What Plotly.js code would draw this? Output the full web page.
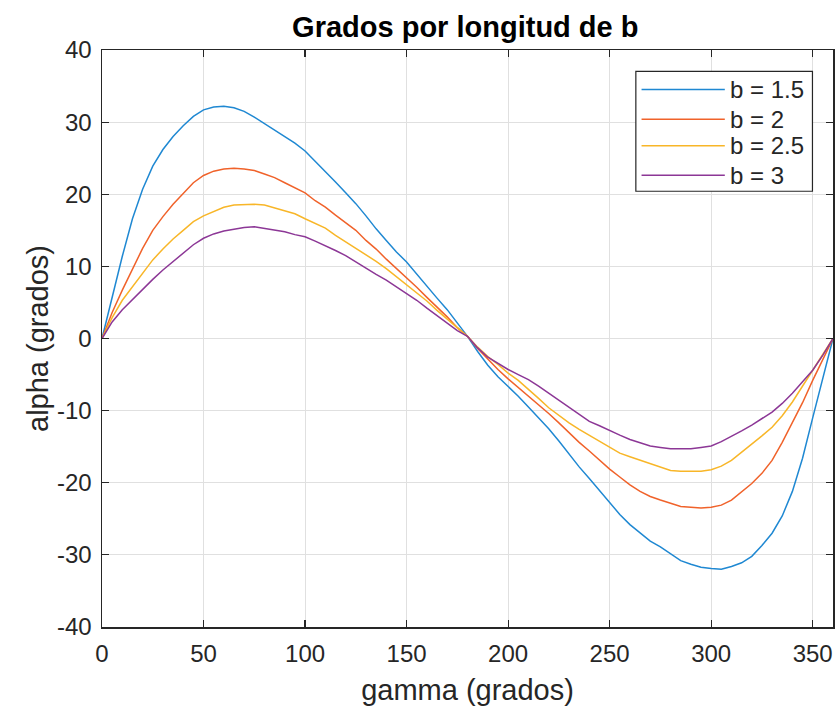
<!DOCTYPE html>
<html>
<head>
<meta charset="utf-8">
<script src="https://cdn.plot.ly/plotly-3.0.1.min.js"></script>
<style>
html,body{margin:0;padding:0;background:#fff;}
#chart{width:838px;height:709px;}
</style>
</head>
<body>
<div id="chart"></div>
<script>
// gamma (grados)
var gamma = [0,5,10,15,20,25,30,35,40,45,50,55,60,65,70,75,80,85,90,95,100,105,110,115,120,125,130,135,140,145,150,155,160,165,170,175,180,
             185,190,195,200,205,210,215,220,225,230,235,240,245,250,255,260,265,270,275,280,285,290,295,300,305,310,315,320,325,330,335,340,345,350,355,360];

// alpha (grados) for each b
var alpha_b15 = [0,5.8,11.4,16.6,20.7,23.9,26.2,28.0,29.5,30.8,31.7,32.1,32.2,32.0,31.5,30.7,29.8,28.9,28.0,27.1,26.0,24.6,23.2,21.7,20.2,18.7,17.0,15.2,13.6,12.0,10.6,8.9,7.3,5.6,4.0,2.2,0.3,
                 -1.8,-3.7,-5.3,-6.6,-8.0,-9.5,-11.0,-12.5,-14.2,-16.0,-17.8,-19.4,-21.1,-22.8,-24.4,-25.8,-26.9,-28.1,-28.9,-29.9,-30.8,-31.3,-31.7,-31.9,-32.0,-31.6,-31.1,-30.2,-28.7,-27.0,-24.6,-21.2,-16.6,-11.0,-5.5,0];
var alpha_b2  = [0,3.6,6.7,9.5,12.5,15.0,16.9,18.6,20.1,21.6,22.6,23.2,23.5,23.6,23.5,23.3,22.8,22.3,21.6,20.9,20.2,19.1,18.2,17.1,16.0,15.0,13.6,12.4,11.0,9.7,8.5,7.1,5.7,4.4,3.0,1.5,0.3,
                 -1.4,-2.9,-4.3,-5.6,-6.8,-7.9,-9.2,-10.4,-11.7,-13.1,-14.4,-15.6,-16.9,-18.1,-19.2,-20.3,-21.2,-21.9,-22.4,-22.9,-23.3,-23.4,-23.5,-23.4,-23.1,-22.4,-21.3,-20.1,-18.7,-16.9,-14.4,-11.7,-8.9,-5.8,-2.9,0];
var alpha_b25 = [0,2.9,5.3,7.2,9.1,10.9,12.4,13.8,15.0,16.2,17.0,17.6,18.2,18.5,18.6,18.6,18.5,18.1,17.8,17.3,16.6,16.0,15.3,14.3,13.4,12.5,11.7,10.7,9.7,8.6,7.5,6.3,5.2,3.9,2.7,1.4,0.3,
                 -1.2,-2.5,-3.6,-4.8,-5.8,-7.0,-8.3,-9.6,-10.7,-11.7,-12.6,-13.4,-14.2,-15.1,-15.9,-16.4,-16.9,-17.4,-17.8,-18.3,-18.4,-18.4,-18.4,-18.2,-17.7,-16.9,-15.8,-14.7,-13.5,-12.3,-10.7,-8.8,-6.6,-4.3,-2.1,0];
var alpha_b3  = [0,2.3,4.0,5.4,6.9,8.2,9.5,10.7,11.9,13.0,13.9,14.5,14.9,15.2,15.4,15.5,15.3,15.1,14.8,14.4,14.1,13.5,12.9,12.2,11.5,10.6,9.7,8.9,8.1,7.2,6.3,5.3,4.2,3.2,2.2,1.1,0.3,
                 -1.3,-2.6,-3.5,-4.3,-5.0,-5.7,-6.6,-7.6,-8.5,-9.5,-10.6,-11.5,-12.1,-12.8,-13.4,-14.0,-14.5,-14.9,-15.1,-15.3,-15.3,-15.3,-15.1,-14.9,-14.3,-13.6,-12.8,-12.0,-11.1,-10.2,-9.0,-7.6,-6.0,-4.4,-2.3,0];

var seriesNames = ["b = 1.5","b = 2","b = 2.5","b = 3"];
var seriesData = [alpha_b15, alpha_b2, alpha_b25, alpha_b3];
var seriesColors = ["#1f88d2","#f0622a","#f8b628","#8c3796"];

var xTicks = [0,50,100,150,200,250,300,350];
var yTicks = [-40,-30,-20,-10,0,10,20,30,40];

var FONT = "Liberation Sans, Arial, sans-serif";

var traces = seriesData.map(function(d,i){
  return {x: gamma, y: d, type:"scatter", mode:"lines", name: seriesNames[i],
          line:{color: seriesColors[i], width:1.5}, showlegend:false};
});

// custom legend (paper coords)
var legX0 = 0.7303, legX1 = 0.9719, legY0 = 0.7552, legY1 = 0.9628;
var entryY = [0.9317, 0.8798, 0.8339, 0.7829];
var shapes = [{type:"rect", xref:"paper", yref:"paper", x0:legX0, x1:legX1, y0:legY0, y1:legY1,
               line:{color:"#262626", width:1.2}, fillcolor:"#ffffff", layer:"above"}];
var annotations = [];
seriesNames.forEach(function(n,i){
  shapes.push({type:"line", xref:"paper", yref:"paper", x0:0.7381, x1:0.852, y0:entryY[i], y1:entryY[i],
               line:{color:seriesColors[i], width:1.5}, layer:"above"});
  annotations.push({xref:"paper", yref:"paper", x:0.8565, y:entryY[i], xanchor:"left", yanchor:"middle",
                    text:n, showarrow:false, font:{family:FONT, size:24, color:"#262626"}});
});

var layout = {
  width:838, height:709,
  margin:{l:102, r:5, t:50, b:82},
  paper_bgcolor:"#ffffff", plot_bgcolor:"#ffffff",
  title:{text:"<b>Grados por longitud de b</b>", font:{family:FONT, size:29, color:"#000000"},
         xref:"paper", x:0.497, xanchor:"center", yref:"container", y:0.962, yanchor:"middle"},
  xaxis:{range:[0,360], tickvals:xTicks, ticktext:xTicks.map(String),
         showgrid:true, gridcolor:"#e0e0e0", gridwidth:1, zeroline:false,
         showline:true, linecolor:"#262626", linewidth:1.5, mirror:"ticks",
         ticks:"inside", ticklen:7, tickcolor:"#262626", tickwidth:1.2, ticklabelstandoff:5,
         tickfont:{family:FONT, size:24, color:"#262626"},
         title:{text:"gamma (grados)", font:{family:FONT, size:29, color:"#262626"}, standoff:13}},
  yaxis:{range:[-40,40], tickvals:yTicks, ticktext:yTicks.map(String),
         showgrid:true, gridcolor:"#e0e0e0", gridwidth:1, zeroline:false,
         showline:true, linecolor:"#262626", linewidth:1.5, mirror:"ticks",
         ticks:"inside", ticklen:7, tickcolor:"#262626", tickwidth:1.2, ticklabelstandoff:4,
         tickfont:{family:FONT, size:24, color:"#262626"},
         title:{text:"alpha (grados)", font:{family:FONT, size:29, color:"#262626"}, standoff:0}},
  shapes: shapes,
  annotations: annotations,
  showlegend:false
};

Plotly.newPlot("chart", traces, layout, {displayModeBar:false, staticPlot:true});
</script>
</body>
</html>
